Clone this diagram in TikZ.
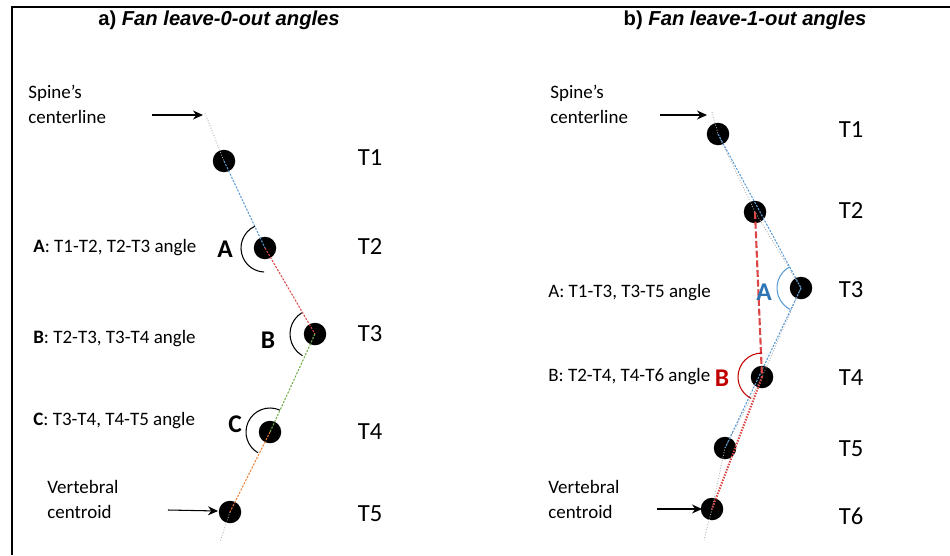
\documentclass[tikz,border=0pt]{standalone}
\usepackage{fontspec}
\setmainfont{Carlito}
\newfontfamily\titlefont{Liberation Sans}
\usetikzlibrary{arrows.meta}

\definecolor{linegray}{RGB}{175,175,175}
\definecolor{lineblue}{RGB}{91,155,213}
\definecolor{labblue}{RGB}{46,117,182}
\definecolor{linered}{RGB}{220,70,70}
\definecolor{labred}{RGB}{192,0,0}
\definecolor{linegreen}{RGB}{112,173,71}
\definecolor{lineorange}{RGB}{237,125,49}

\begin{document}
\begin{tikzpicture}[
	dot/.style = {circle, fill=black, minimum size=4.5mm, inner sep=0pt},
	vlab/.style = {font=\fontsize{14}{16}\selectfont},
	note/.style = {anchor=west, align=left, inner sep=0pt, font=\fontsize{10.8}{14.2}\selectfont},
	big/.style = {font=\fontsize{14.5}{16}\selectfont\bfseries},
	title/.style = {font=\titlefont\bfseries\fontsize{11.5}{13}\selectfont},
	arrow/.style = {-{Stealth[length=2mm, width=1.8mm]}, semithick},
	axis/.style = {draw=linegray, densely dotted, line width=0.5pt},
	seg/.style = {line width=0.6pt, dash pattern=on 1.2pt off 0.8pt},
	angle/.style = {line width=0.6pt}
	]
	
	\useasboundingbox (0,0) rectangle (19,11.1);
	\draw[line width=1.3pt] (0.24,0) -- (0.24,10.96) -- (19,10.96);
	
	% a) leave-0-out
	\node[title] (ta) at (4.38,10.70) {a) \textit{Fan leave-0-out angles}};
	
	\coordinate (Ltop) at (4.10,8.84);
	\coordinate (Lbot) at (4.40,0.26);
	\node[dot] (L1) at (4.48,7.88) {};
	\node[dot] (L2) at (5.30,6.14) {};
	\node[dot] (L3) at (6.30,4.42) {};
	\node[dot] (L4) at (5.40,2.46) {};
	\node[dot] (L5) at (4.60,0.86) {};
	
	\draw[axis] (Ltop) -- (L1.center);
	\draw[axis] (L5.center) -- (Lbot);
	\draw[seg, lineblue] (L1.center) -- (L2.center);
	\draw[seg, linered] (L2.center) -- (L3.center);
	\draw[seg, linegreen] (L3.center) -- (L4.center);
	\draw[seg, lineorange] (L4.center) -- (L5.center);
	
	\draw[angle] (L2.center) ++(115:0.48) arc[start angle=115, end angle=268, radius=0.48];
	\draw[angle] (L3.center) ++(122:0.5) arc[start angle=122, end angle=240, radius=0.5];
	\draw[angle] (L4.center) ++(66:0.48) arc[start angle=66, end angle=240, radius=0.48];
	
	\node[big] (LA) at (4.50,6.12) {A};
	\node[big] (LB) at (5.36,4.30) {B};
	\node[big] (LC) at (4.70,2.62) {C};
	
	\node[vlab] (l1) at (7.40,7.94) {T1};
	\node[vlab] (l2) at (7.40,6.16) {T2};
	\node[vlab] (l3) at (7.40,4.42) {T3};
	\node[vlab] (l4) at (7.40,2.46) {T4};
	\node[vlab] (l5) at (7.40,0.82) {T5};
	
	\node[note] (Lspine) at (0.56,9.01) {Spine’s\\centerline};
	\node[note] (Lcent) at (0.94,1.12) {Vertebral\\centroid};
	\node[note] (Lna) at (0.66,6.14) {\textbf{A}: T1-T2, T2-T3 angle};
	\node[note] (Lnb) at (0.66,4.32) {\textbf{B}: T2-T3, T3-T4 angle};
	\node[note] (Lnc) at (0.66,2.68) {\textbf{C}: T3-T4, T4-T5 angle};
	
	\coordinate (Lsa) at (3.04,8.80);
	\coordinate (Lsb) at (4.06,8.80);
	\coordinate (Lva) at (3.36,0.90);
	\coordinate (Lvb) at (4.36,0.88);
	\draw[arrow] (Lsa) -- (Lsb);
	\draw[arrow] (Lva) -- (Lvb);
	
	% b) leave-1-out
	\node[title] (tb) at (14.90,10.70) {b) \textit{Fan leave-1-out angles}};
	
	\coordinate (Rtop) at (14.24,8.86);
	\coordinate (Rbot) at (14.08,0.30);
	\node[dot] (R1) at (14.36,8.42) {};
	\node[dot] (R2) at (15.10,6.86) {};
	\node[dot] (R3) at (16.02,5.34) {};
	\node[dot] (R4) at (15.24,3.56) {};
	\node[dot] (R5) at (14.50,2.14) {};
	\node[dot] (R6) at (14.24,0.92) {};
	
	\draw[axis] (Rtop) -- (R1.center) -- (R2.center) -- (R3.center)
		-- (R4.center) -- (R5.center) -- (R6.center) -- (Rbot);
	\draw[seg, lineblue] (R1.center) -- (R3.center);
	\draw[seg, lineblue] (R3.center) -- (R5.center);
	\draw[linered, line width=1.2pt, dash pattern=on 4pt off 1.5pt] (R2.center) -- (R4.center);
	\draw[linered, line width=1.2pt, dash pattern=on 0.8pt off 0.8pt] (R4.center) -- (R6.center);
	
	\draw[angle, lineblue] (R3.center) ++(118:0.48) arc[start angle=118, end angle=243, radius=0.48];
	\draw[angle, labred] (R4.center) ++(90:0.48) arc[start angle=90, end angle=243, radius=0.48];
	
	\node[big, labblue] (RA) at (15.28,5.26) {A};
	\node[big, labred] (RB) at (14.44,3.54) {B};
	
	\node[vlab] (r1) at (17.02,8.50) {T1};
	\node[vlab] (r2) at (17.02,6.88) {T2};
	\node[vlab] (r3) at (17.02,5.30) {T3};
	\node[vlab] (r4) at (17.02,3.54) {T4};
	\node[vlab] (r5) at (17.02,2.12) {T5};
	\node[vlab] (r6) at (17.02,0.78) {T6};
	
	\node[note] (Rspine) at (11.00,9.02) {Spine’s\\centerline};
	\node[note] (Rcent) at (10.96,1.12) {Vertebral\\centroid};
	\node[note] (Rna) at (10.96,5.24) {A: T1-T3, T3-T5 angle};
	\node[note] (Rnb) at (10.96,3.56) {B: T2-T4, T4-T6 angle};
	
	\coordinate (Rsa) at (13.20,8.80);
	\coordinate (Rsb) at (14.14,8.80);
	\coordinate (Rva) at (13.14,0.92);
	\coordinate (Rvb) at (14.04,0.92);
	\draw[arrow] (Rsa) -- (Rsb);
	\draw[arrow] (Rva) -- (Rvb);
\end{tikzpicture}
\end{document}
